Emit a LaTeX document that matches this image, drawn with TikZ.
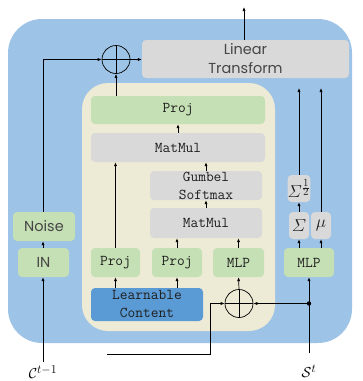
\documentclass[tikz,border=0pt]{standalone}
\usepackage{amsmath}
\usepackage[no-math]{fontspec}
\newfontfamily\geo{Poppins}
\usetikzlibrary{arrows.meta}
\definecolor{bgblue}{RGB}{157,195,230}
\definecolor{bgyel}{RGB}{237,235,213}
\definecolor{bxgreen}{RGB}{197,224,180}
\definecolor{bxgray}{RGB}{217,217,217}
\definecolor{bxblue}{RGB}{91,155,213}
\definecolor{txt}{RGB}{30,30,30}
\definecolor{gtxt}{RGB}{70,70,70}
\begin{document}
\begin{tikzpicture}[x=1pt,y=-1pt,
  bx/.style={rounded corners=4pt,inner sep=0pt,align=center,text=txt,font=\ttfamily\fontsize{15}{18}\selectfont},
  gbox/.style={bx,fill=bxgreen},
  ybox/.style={bx,fill=bxgray},
  sz/.style args={#1x#2}{minimum width=#1pt,minimum height=#2pt},
  opl/.style={circle,draw,line width=0.7pt,minimum size=28pt,inner sep=0pt},
  arr/.style={line width=0.7pt,-{Latex[length=4pt,width=3.2pt]}},
  ln/.style={line width=0.7pt},
  geof/.style={font=\geo\fontsize{14.5}{19}\selectfont,text=gtxt},
  mth/.style={font=\fontsize{16}{18}\selectfont}]
\useasboundingbox (0,0) rectangle (363,381);
\fill[bgblue,rounded corners=34pt] (8,19) rectangle (352,343);
\fill[bgyel,rounded corners=26pt] (82,83) rectangle (275,331);
% boxes
\node[ybox,sz=207x38,geof] (lin) at (245.5,59) {Linear\\Transform};
\node[gbox,sz=174x28] (projT) at (178,110) {Proj};
\node[ybox,sz=174x29] (mm1) at (178,147.5) {MatMul};
\node[ybox,sz=112x29] (gum) at (206,185.5) {Gumbel\\Softmax};
\node[ybox,sz=112x30] (mm2) at (206,223) {MatMul};
\node[gbox,sz=49x29] (p1) at (115.5,262.5) {Proj};
\node[gbox,sz=50x29] (p2) at (177,262.5) {Proj};
\node[gbox,sz=51x29] (mlp) at (238.5,262.5) {MLP};
\node[bx,fill=bxblue,sz=112x33] (lc) at (147,304.5) {Learnable\\Content};
\node[gbox,sz=50x29] (mlpR) at (309,262.5) {MLP};
\node[ybox,sz=20x27,mth] (sig) at (299,225.5) {$\varSigma$};
\node[ybox,sz=20x27,mth] (mu) at (321,225.5) {$\mu$};
\node[ybox,sz=20x27,mth] (sq) at (299,188.5) {$\varSigma^{\frac{\scriptstyle 1}{\scriptstyle 2}}$};
\node[gbox,sz=51x29,geof] (IN) at (43.5,262.5) {IN};
\node[gbox,sz=62x29,geof] (noise) at (44,226.5) {Noise};
\node[opl] (opT) at (116,59.5) {};
\node[opl] (opB) at (239,303.5) {};
\draw[ln] (opT.north)--(opT.south) (opT.west)--(opT.east);
\draw[ln] (opB.north)--(opB.south) (opB.west)--(opB.east);
% labels
\node[font=\fontsize{15}{18}\selectfont] (cl) at (43,372) {$\mathcal{C}^{\text{\fontsize{12}{14}\selectfont$t{-}1$}}$};
\node[font=\fontsize{15}{18}\selectfont] (sl) at (309,371) {$\mathcal{S}^{\text{\fontsize{12}{14}\selectfont$t$}}$};
\coordinate (out) at (244,7);
\coordinate (ctop) at (43,59.5);
\coordinate (bstart) at (107,354);
\coordinate (bturn) at (210,354);
\coordinate (sbot) at (309,353);
\coordinate (dot) at (309,303.5);
\coordinate (sqend) at (299,88);
\coordinate (muend) at (321,88);
% connectors
\draw[arr] (lin.north -| out) -- (out);
\draw[arr] (opT.east) -- (lin.west |- opT.east);
\draw[arr] (opT |- projT.north) -- (opT.south);
\draw[arr] (noise.north -| ctop) -- (ctop) -- (opT.west);
\draw[arr] (cl.north -| ctop) -- (IN.south -| ctop);
\draw[arr] (IN.north -| ctop) -- (noise.south -| ctop);
\draw[arr] (mm1.north -| projT) -- (projT.south);
\draw[arr] (gum.north) -- (mm1.south -| gum);
\draw[arr] (mm2.north) -- (gum.south);
\draw[arr] (p1.north) -- (mm1.south -| p1);
\draw[arr] (p2.north) -- (mm2.south -| p2);
\draw[arr] (mlp.north) -- (mm2.south -| mlp);
\draw[arr] (lc.north -| p1) -- (p1.south);
\draw[arr] (lc.north -| p2) -- (p2.south);
\draw[arr] (opB.north) -- (mlp.south);
\draw[arr] (bstart) -- (bturn) -- (bturn |- opB) -- (opB.west);
\draw[arr] (sbot) -- (mlpR.south);
\fill (dot) circle (2.2pt);
\draw[arr] (dot) -- (opB.east);
\draw[arr] (mlpR.north -| sig) -- (sig.south);
\draw[arr] (mlpR.north -| mu) -- (mu.south);
\draw[arr] (sig.north) -- (sq.south);
\draw[arr] (sq.north) -- (sqend);
\draw[arr] (mu.north) -- (muend);
\end{tikzpicture}
\end{document}
